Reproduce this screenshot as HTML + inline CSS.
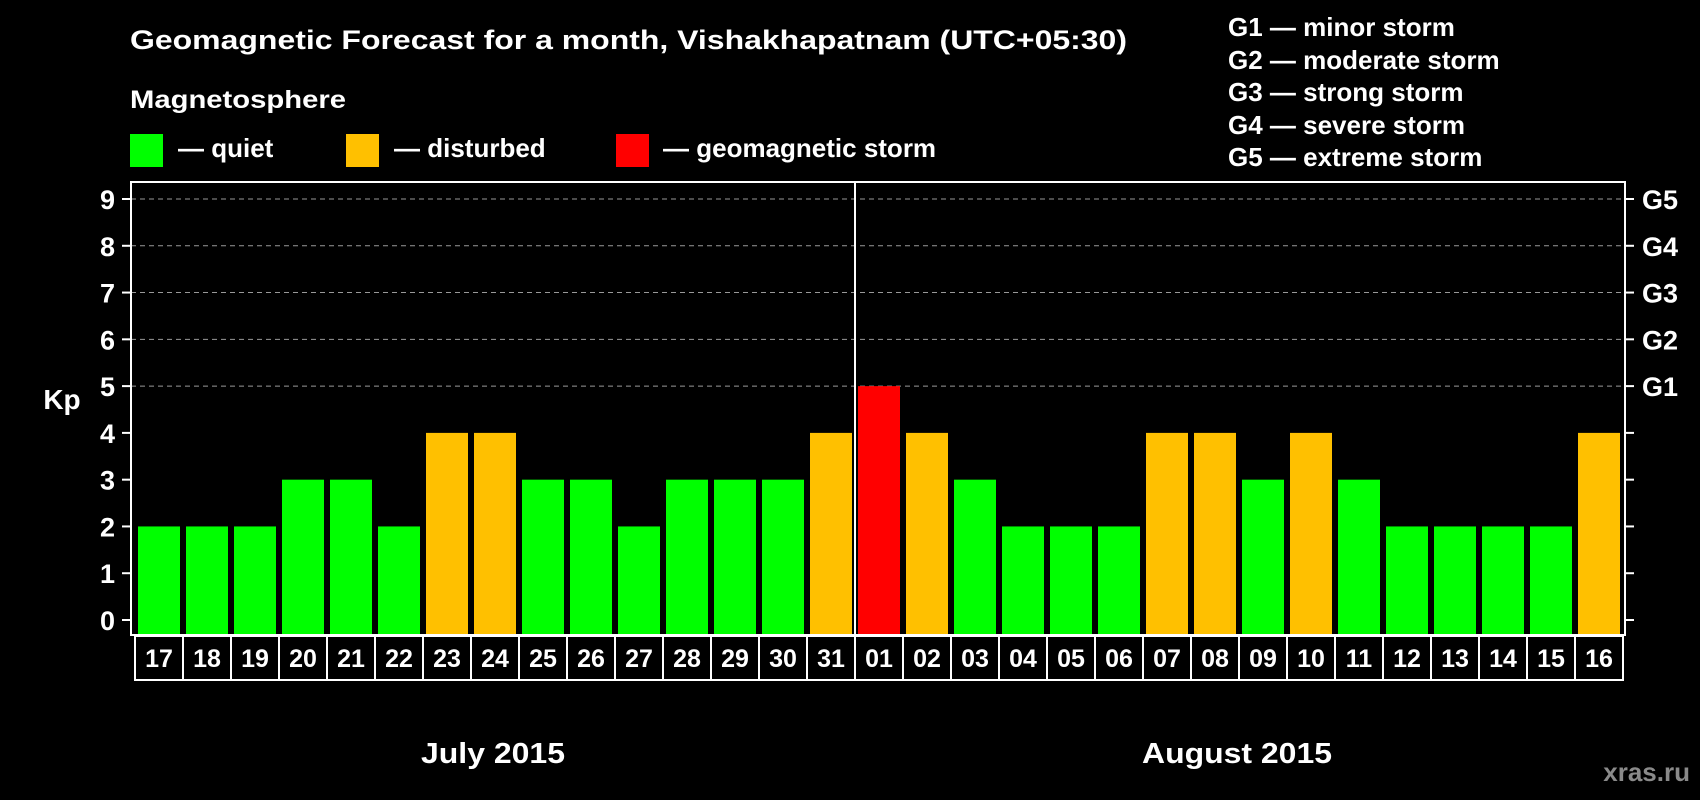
<!DOCTYPE html>
<html><head><meta charset="utf-8"><style>
html,body{margin:0;padding:0;background:#000;}
svg{display:block;font-family:"Liberation Sans",Arial,sans-serif;font-weight:bold;}
</style></head><body>
<svg id="chart" width="1700" height="800" viewBox="0 0 1700 800">
<rect x="0" y="0" width="1700" height="800" fill="#000"/>
<text x="130" y="49" fill="#fff" font-size="27" textLength="997" lengthAdjust="spacingAndGlyphs">Geomagnetic Forecast for a month, Vishakhapatnam (UTC+05:30)</text>
<text x="130" y="108" fill="#fff" font-size="25" textLength="216" lengthAdjust="spacingAndGlyphs">Magnetosphere</text>
<g><rect x="130" y="134" width="33" height="33" fill="#00ff00"/><text x="178" y="157" fill="#fff" font-size="26">— quiet</text></g>
<g><rect x="346" y="134" width="33" height="33" fill="#ffc000"/><text x="394" y="157" fill="#fff" font-size="26">— disturbed</text></g>
<g><rect x="616" y="134" width="33" height="33" fill="#ff0000"/><text x="663" y="157" fill="#fff" font-size="26">— geomagnetic storm</text></g>
<g fill="#fff" font-size="26">
<text x="1228" y="36">G1 — minor storm</text>
<text x="1228" y="69">G2 — moderate storm</text>
<text x="1228" y="101">G3 — strong storm</text>
<text x="1228" y="134">G4 — severe storm</text>
<text x="1228" y="166">G5 — extreme storm</text>
</g>
<text x="62" y="409" fill="#fff" font-size="28" text-anchor="middle">Kp</text>
<g id="grid"></g>
<g id="bars"></g>
<g id="axes"></g>
<text x="493" y="763" fill="#fff" font-size="29" text-anchor="middle" textLength="144" lengthAdjust="spacingAndGlyphs">July 2015</text>
<text x="1237" y="763" fill="#fff" font-size="29" text-anchor="middle" textLength="190" lengthAdjust="spacingAndGlyphs">August 2015</text>
<text x="1690" y="781" fill="#8a8a8a" font-size="26" text-anchor="end">xras.ru</text>
</svg>
<script>
const days = ["17","18","19","20","21","22","23","24","25","26","27","28","29","30","31","01","02","03","04","05","06","07","08","09","10","11","12","13","14","15","16"];
const kpValues = [2,2,2,3,3,2,4,4,3,3,2,3,3,3,4,5,4,3,2,2,2,4,4,3,4,3,2,2,2,2,4];
const yTicks = [0,1,2,3,4,5,6,7,8,9];
const gLabels = ["","","","","","G1","G2","G3","G4","G5"];
const monthSplit = 15;

const NS="http://www.w3.org/2000/svg";
const L=131,R=1625,T=182,B=635,Y0=620,UNIT=(620-199)/9;
const X0=138,PITCH=48,BW=42;
function y(v){return Y0-v*UNIT;}
function x(i){return X0+i*PITCH;}
function mk(tag,attrs,parent){const e=document.createElementNS(NS,tag);for(const k in attrs)e.setAttribute(k,attrs[k]);parent.appendChild(e);return e;}
const grid=document.getElementById('grid'),bars=document.getElementById('bars'),axes=document.getElementById('axes');

yTicks.forEach(v=>{
  if(v>=5){const g=mk('line',{x1:L,x2:R,y1:y(v),y2:y(v),stroke:'#999','stroke-width':1,'stroke-dasharray':'5,4'},grid);
    
    }
  const t1=mk('line',{x1:L-9,x2:L,y1:y(v),y2:y(v),stroke:'#fff','stroke-width':2},axes);
  
  
  const t2=mk('line',{x1:R,x2:R+9,y1:y(v),y2:y(v),stroke:'#fff','stroke-width':2},axes);
  
  
  const lb=mk('text',{x:115,y:y(v)+10,fill:'#fff','font-size':27,'text-anchor':'end'},axes);
  lb.textContent=v;
  
  
  if(gLabels[v]){const gl=mk('text',{x:1642,y:y(v)+10,fill:'#fff','font-size':27},axes);
    gl.textContent=gLabels[v];
    
    }
});

kpValues.forEach((v,i)=>{
  const c=v>=5?'#ff0000':(v>=4?'#ffc000':'#00ff00');
  const b=mk('rect',{x:x(i),y:y(v),width:BW,height:B-y(v),fill:c},bars);
  
  
  const bx=mk('rect',{x:x(i)-3,y:636,width:PITCH,height:44,fill:'none',stroke:'#fff','stroke-width':2},axes);
  
  
  const dt=mk('text',{x:x(i)+BW/2,y:667,fill:'#fff','font-size':25,'text-anchor':'middle'},axes);
  dt.textContent=days[i];
  
  
});

const frame=mk('rect',{x:L,y:T,width:R-L,height:B-T,fill:'none',stroke:'#fff','stroke-width':2},axes);


const mx=x(monthSplit)-3;
const div=mk('line',{x1:mx,x2:mx,y1:T,y2:B,stroke:'#fff','stroke-width':2},axes);


</script>
</body></html>
